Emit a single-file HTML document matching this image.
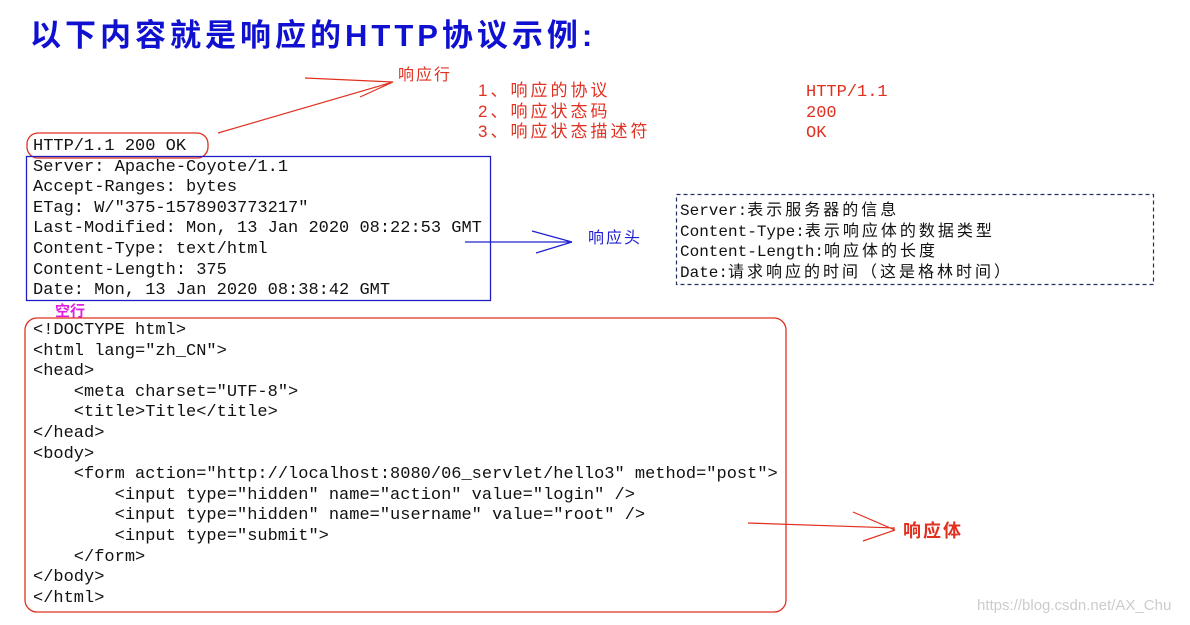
<!DOCTYPE html>
<html><head><meta charset="utf-8"><style>
body{margin:0;width:1190px;height:625px;background:#fff;position:relative;overflow:hidden;font-family:"Liberation Mono","Noto Sans CJK SC",monospace}
.a{position:absolute;white-space:pre}
.code{font-size:17px;line-height:20.6px;color:#111}
.cn{font-family:"Liberation Sans","Noto Sans CJK SC",sans-serif}
.r{white-space:nowrap}
.r div{height:20.5px;line-height:20.5px;overflow:visible}
.w{letter-spacing:3px;font-family:"Noto Sans CJK SC",sans-serif;font-size:16px;line-height:20.5px}
</style></head><body>
<div class="a cn" style="left:30px;top:10px;font-size:31px;font-weight:bold;color:#1010d0;letter-spacing:4px">以下内容就是响应的HTTP协议示例:</div>
<div class="a cn" style="left:398px;top:61px;font-size:16px;color:#e03020;letter-spacing:2px">响应行</div>
<div class="a cn" style="left:478px;top:81px;font-size:17px;line-height:20.5px;color:#e03020;letter-spacing:3px">1、响应的协议
2、响应状态码
3、响应状态描述符</div>
<div class="a code" style="left:806px;top:83px;line-height:20.5px;color:#e03020">HTTP/1.1
200
OK</div>
<div class="a code" style="left:33px;top:137px">HTTP/1.1 200 OK
Server: Apache-Coyote/1.1
Accept-Ranges: bytes
ETag: W/"375-1578903773217"
Last-Modified: Mon, 13 Jan 2020 08:22:53 GMT
Content-Type: text/html
Content-Length: 375
Date: Mon, 13 Jan 2020 08:38:42 GMT</div>
<div class="a cn" style="left:55px;top:300px;font-size:15px;color:#e020e0;font-weight:bold">空行</div>
<div class="a code" style="left:33px;top:321px">&lt;!DOCTYPE html&gt;
&lt;html lang="zh_CN"&gt;
&lt;head&gt;
    &lt;meta charset="UTF-8"&gt;
    &lt;title&gt;Title&lt;/title&gt;
&lt;/head&gt;
&lt;body&gt;
    &lt;form action="http://localhost:8080/06_servlet/hello3" method="post"&gt;
        &lt;input type="hidden" name="action" value="login" /&gt;
        &lt;input type="hidden" name="username" value="root" /&gt;
        &lt;input type="submit"&gt;
    &lt;/form&gt;
&lt;/body&gt;
&lt;/html&gt;</div>
<div class="a cn" style="left:588px;top:224px;font-size:16px;color:#2020d0;letter-spacing:2px">响应头</div>
<div class="a code r" style="left:680px;top:198px;font-size:16px"><div>Server:<span class="w">表示服务器的信息</span></div><div>Content-Type:<span class="w">表示响应体的数据类型</span></div><div>Content-Length:<span class="w">响应体的长度</span></div><div>Date:<span class="w">请求响应的时间（这是格林时间）</span></div></div>
<div class="a cn" style="left:903px;top:517px;font-size:18px;font-weight:bold;color:#e03020;letter-spacing:2px">响应体</div>
<div class="a" style="left:977px;top:597px;font-family:'Liberation Sans',sans-serif;font-size:15px;color:#ccc">https://blog.csdn.net/AX_Chu</div>
<svg class="a" style="left:0;top:0" width="1190" height="625">
<rect x="27" y="133" width="181" height="25" rx="11" fill="none" stroke="#e03020" stroke-width="1.3"/>
<rect x="26.5" y="156.5" width="464" height="144" fill="none" stroke="#2020c0" stroke-width="1.3"/>
<rect x="25" y="318" width="761" height="294" rx="12" fill="none" stroke="#e03020" stroke-width="1.3"/>
<rect x="676.5" y="194.5" width="477" height="90" fill="none" stroke="#203060" stroke-width="1.2" stroke-dasharray="4,3"/>
<path d="M218 133 L393 82 M305 78 L393 82 L360 97" fill="none" stroke="#e03020" stroke-width="1.2"/>
<path d="M465 242 L570 242 M532 231 L572 242 M536 253 L572 242" fill="none" stroke="#2020d0" stroke-width="1.2"/>
<path d="M748 523 L895 528 M853 512 L895 530 M863 541 L895 530" fill="none" stroke="#e03020" stroke-width="1.2"/>
</svg>
</body></html>
